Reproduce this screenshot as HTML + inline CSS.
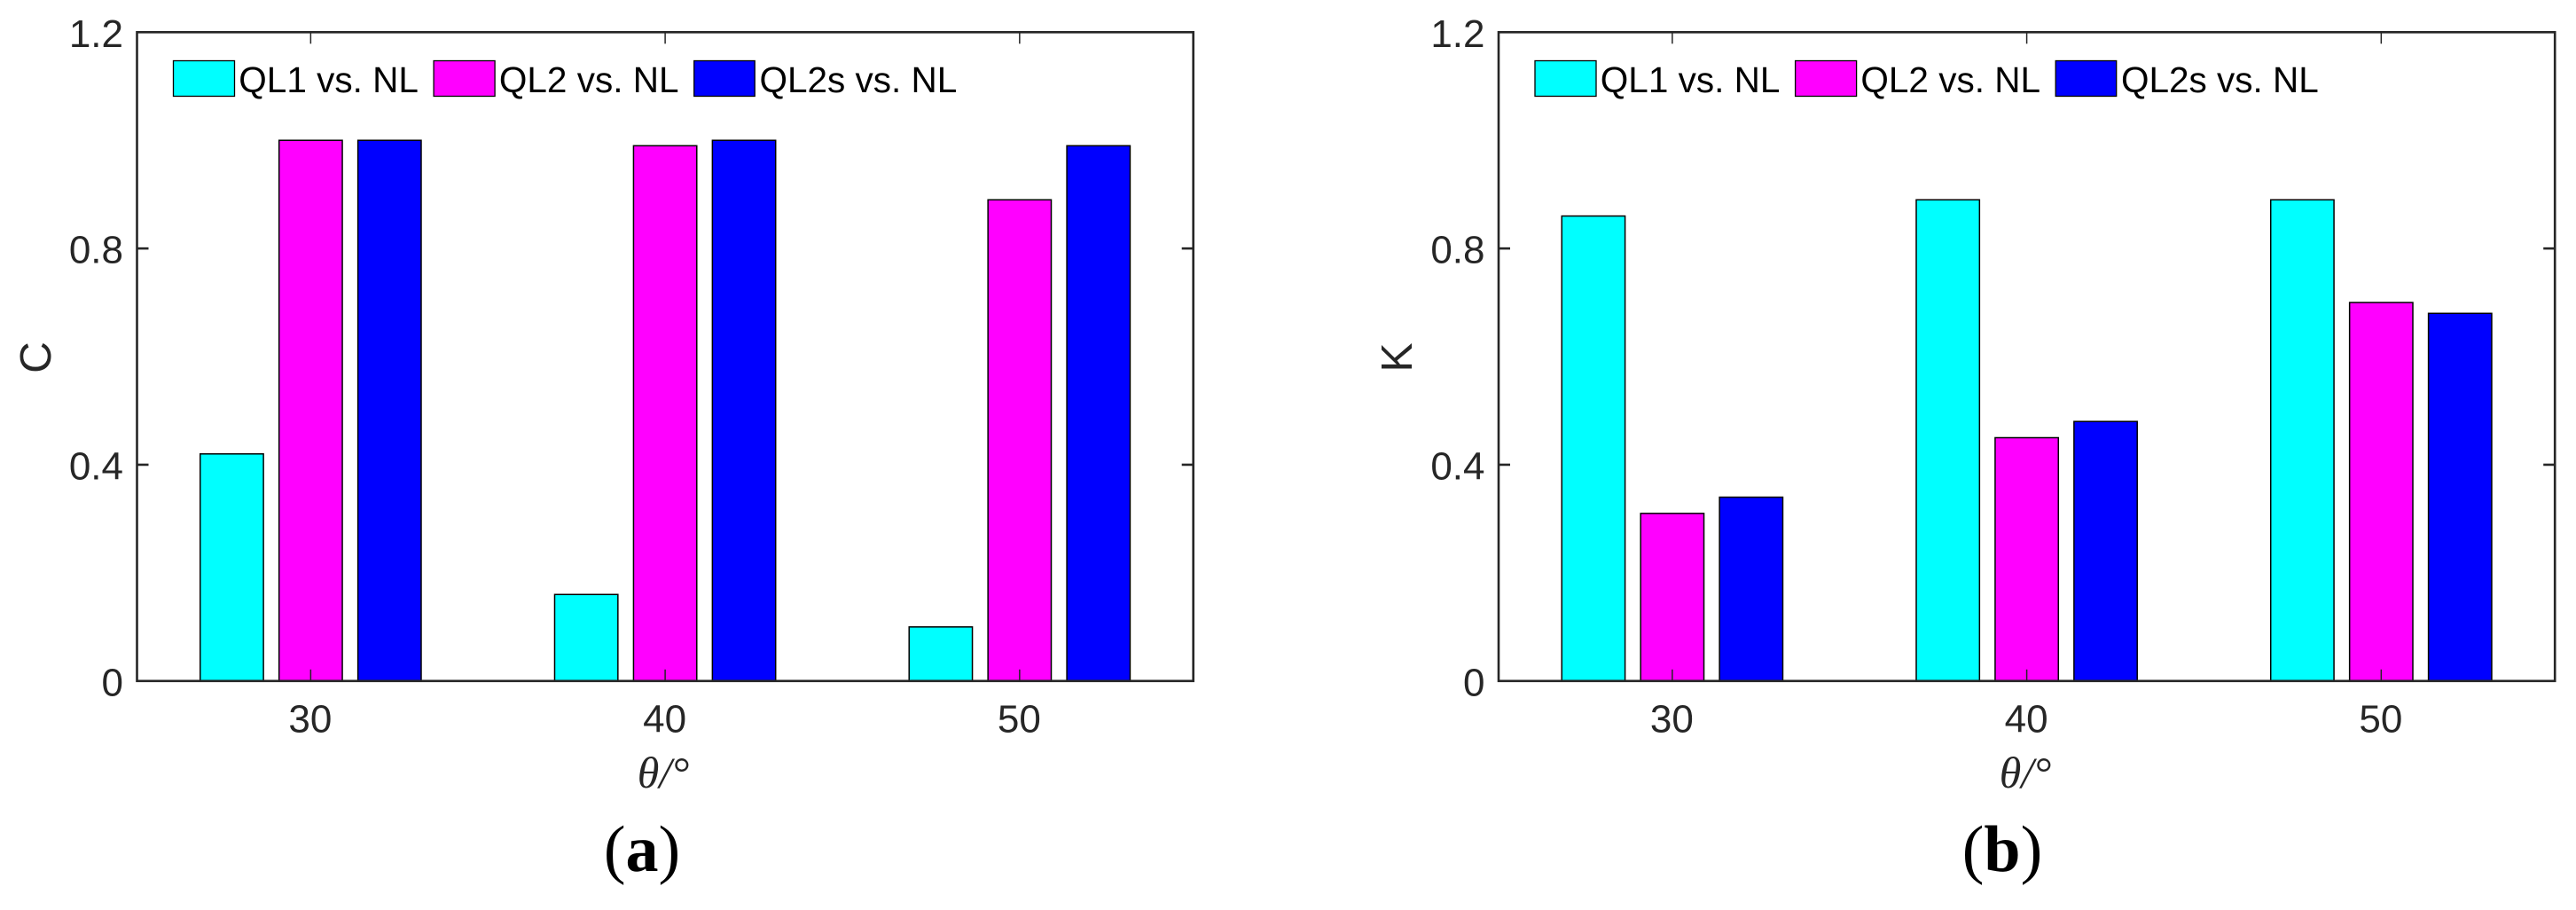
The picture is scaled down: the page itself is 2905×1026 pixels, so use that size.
<!DOCTYPE html>
<html lang="en">
<head>
<meta charset="utf-8">
<title>C and K comparison bar charts</title>
<style>
html,body{margin:0;padding:0;background:#fff;}
svg{display:block;}
text{font-family:"Liberation Sans",Arial,sans-serif;}
.serif{font-family:"Liberation Serif","Times New Roman",serif;}
</style>
</head>
<body>
<svg id="figure" xmlns="http://www.w3.org/2000/svg" width="2905" height="1026" viewBox="0 0 2905 1026"></svg>
<script>
const categories = [30, 40, 50];
const seriesNames = ["QL1 vs. NL", "QL2 vs. NL", "QL2s vs. NL"];
const seriesKeys = ["ql1", "ql2", "ql2s"];
const seriesColors = ["#00ffff", "#ff00ff", "#0000ff"];
const yTicks = [0, 0.4, 0.8, 1.2];
const yTickLabels = ["0", "0.4", "0.8", "1.2"];
const xTickLabels = ["30", "40", "50"];
const cQL1 = [0.42, 0.16, 0.10];
const cQL2 = [1.00, 0.99, 0.89];
const cQL2s = [1.00, 1.00, 0.99];
const kQL1 = [0.86, 0.89, 0.89];
const kQL2 = [0.31, 0.45, 0.70];
const kQL2s = [0.34, 0.48, 0.68];

const NS = "http://www.w3.org/2000/svg";
const fig = document.getElementById("figure");
const X_MIN = 25.1, X_MAX = 54.9, Y_MIN = 0, Y_MAX = 1.2;
const PLOT_TOP = 36.3, PLOT_BOTTOM = 767.8, PLOT_WIDTH = 1191.2;
const AXIS_COLOR = "#262626";

function make(tag, parent, attrs, txt) {
  const el = document.createElementNS(NS, tag);
  for (const k in attrs) el.setAttribute(k, attrs[k]);
  if (txt !== undefined) el.textContent = txt;
  parent.appendChild(el);
  return el;
}

function drawPanel(opts) {
  const left = opts.left;
  const right = left + PLOT_WIDTH;
  const xScale = v => left + (v - X_MIN) / (X_MAX - X_MIN) * PLOT_WIDTH;
  const yScale = v => PLOT_BOTTOM - (v - Y_MIN) / (Y_MAX - Y_MIN) * (PLOT_BOTTOM - PLOT_TOP);
  const BAR_OFFSET = 2.225, BAR_WIDTH = 1.785;

  const g = make("g", fig, {});
  
  

  // bars
  opts.series.forEach((vals, s) => {
    const offset = (s - 1) * BAR_OFFSET;
    vals.forEach((v, i) => {
      const x0 = xScale(categories[i] + offset - BAR_WIDTH / 2);
      const x1 = xScale(categories[i] + offset + BAR_WIDTH / 2);
      const bar = make("rect", g, {
        x: x0, y: yScale(v), width: x1 - x0, height: yScale(0) - yScale(v),
        fill: seriesColors[s], stroke: "#000", "stroke-width": 1.5
      });
      
      
    });
  });

  // frame
  const frame = make("rect", g, {
    x: left, y: PLOT_TOP, width: PLOT_WIDTH, height: PLOT_BOTTOM - PLOT_TOP,
    fill: "none", stroke: AXIS_COLOR, "stroke-width": 2.6
  });
  
  

  // x ticks + labels
  categories.forEach((c, i) => {
    const x = xScale(c);
    const tb = make("line", g, {x1: x, x2: x, y1: PLOT_BOTTOM, y2: PLOT_BOTTOM - 13, stroke: AXIS_COLOR, "stroke-width": 1.5});
    
    
    const tt = make("line", g, {x1: x, x2: x, y1: PLOT_TOP, y2: PLOT_TOP + 13, stroke: AXIS_COLOR, "stroke-width": 1.5});
    
    
    const lab = make("text", g, {x: x - 0.5, y: 825.5, "text-anchor": "middle", "font-size": 44, fill: AXIS_COLOR}, xTickLabels[i]);
    
    
  });

  // y ticks + labels
  yTicks.forEach((t, i) => {
    const y = yScale(t);
    if (t > Y_MIN && t < Y_MAX) {
      const tl = make("line", g, {x1: left, x2: left + 13, y1: y, y2: y, stroke: AXIS_COLOR, "stroke-width": 2.6});
      
      
      const tr = make("line", g, {x1: right, x2: right - 13, y1: y, y2: y, stroke: AXIS_COLOR, "stroke-width": 2.6});
      
      
    }
    const lab = make("text", g, {x: left - 15.5, y: y + 16.5, "text-anchor": "end", "font-size": 44, fill: AXIS_COLOR}, yTickLabels[i]);
    
    
  });

  // y axis title
  const yt = make("text", g, {
    x: 0, y: 0, "text-anchor": "middle", "font-size": 49.5, fill: AXIS_COLOR,
    transform: "translate(" + (left + opts.yTitleDx) + ",403) rotate(-90)"
  }, opts.yTitle);
  
  

  // x axis title
  const xt = make("text", g, {x: opts.xTitleX, y: 888, "text-anchor": "middle", "font-size": 50, fill: AXIS_COLOR, "class": "serif", "font-style": "italic"}, "θ/°");
  
  

  // legend
  const legend = make("g", g, {});
  
  
  seriesNames.forEach((nm, s) => {
    const lx = left + 41 + s * 293.6;
    const sw = make("rect", legend, {x: lx, y: 68.5, width: s === 2 ? 68.5 : 69, height: 40, fill: seriesColors[s], stroke: "#000", "stroke-width": 1.3});
    
    
    const tx = make("text", legend, {x: lx + 73.8, y: 104, "font-size": 40.5, fill: "#000"}, nm);
    
    
  });

  // panel caption
  const cap = make("text", g, {x: opts.captionX, y: 982, "text-anchor": "middle", "font-size": 74, fill: "#000", "class": "serif"});
  
  
  make("tspan", cap, {}, "(");
  make("tspan", cap, {"font-weight": "bold"}, opts.caption);
  make("tspan", cap, {}, ")");
}

drawPanel({name: "chart-c", left: 154.5, series: [cQL1, cQL2, cQL2s], yTitle: "C", yTitleDx: -97.5, xTitleX: 748, caption: "a", captionX: 724});
drawPanel({name: "chart-k", left: 1690, series: [kQL1, kQL2, kQL2s], yTitle: "K", yTitleDx: -98, xTitleX: 2284, caption: "b", captionX: 2258});
</script>
</body>
</html>
